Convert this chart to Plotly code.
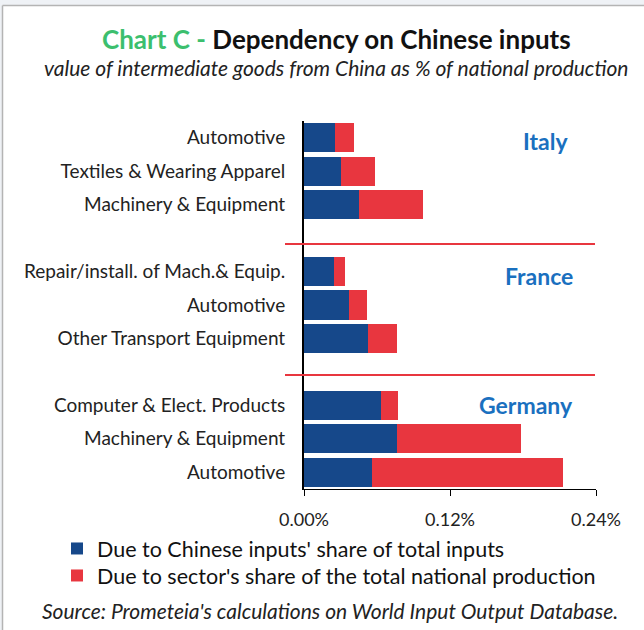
import plotly.graph_objects as go

countries = ["Italy", "France", "Germany"]
sectors = [
    ["Automotive", "Textiles & Wearing Apparel", "Machinery & Equipment"],
    ["Repair/install. of Mach.& Equip.", "Automotive", "Other Transport Equipment"],
    ["Computer & Elect. Products", "Machinery & Equipment", "Automotive"],
]
# % of national production
input_share = [
    [0.0254, 0.0303, 0.0451],
    [0.0246, 0.0369, 0.0524],
    [0.0633, 0.0764, 0.0555],
]
sector_share = [
    [0.0156, 0.0284, 0.0524],
    [0.0094, 0.0147, 0.0242],
    [0.0143, 0.1019, 0.1575],
]
x_ticks = [0.0, 0.12, 0.24]
x_tick_labels = ["0.00%", "0.12%", "0.24%"]
series_names = [
    "Due to Chinese inputs' share of total inputs",
    "Due to sector's share of the total national production",
]

W, H = 644, 630
L, R, T, B = 304, 48, 121, 141
PW, PH = W - L - R, H - T - B


def px(x):
    return (x - L) / PW


def py(y):
    return (H - B - y) / PH


FONT = "Lato, 'Open Sans', sans-serif"
BLUE = "#16488a"
RED = "#e8363f"

# slot positions: 3 rows per country, one empty slot between countries
pos, labels, blue, red = [], [], [], []
for g in range(len(countries)):
    for i in range(len(sectors[g])):
        pos.append(g * 4 + i)
        labels.append(sectors[g][i])
        blue.append(input_share[g][i])
        red.append(sector_share[g][i])

fig = go.Figure()
fig.add_trace(go.Bar(
    y=pos, x=blue, orientation="h", name=series_names[0], showlegend=True,
    marker=dict(color=BLUE, line=dict(width=0)), legend="legend",
))
fig.add_trace(go.Bar(
    y=pos, x=red, orientation="h", name=series_names[1], showlegend=True,
    marker=dict(color=RED, line=dict(width=0)), legend="legend2",
))

leg = dict(xanchor="left", yanchor="top", font=dict(size=21.5, color="#111"),
           bgcolor="rgba(0,0,0,0)", visible=True)

fig.update_layout(
    width=W, height=H,
    margin=dict(l=L, r=R, t=T, b=B),
    barmode="stack",
    bargap=0.13,
    showlegend=True,
    plot_bgcolor="white",
    paper_bgcolor="white",
    font=dict(family=FONT, color="#222", size=19),
    legend=dict(x=px(57), y=py(528), **leg),
    legend2=dict(x=px(57), y=py(555), **leg),
)

fig.update_xaxes(
    range=[0, 0.24], tickvals=x_ticks, ticktext=x_tick_labels,
    showgrid=False, zeroline=False, showline=True, linecolor="black",
    linewidth=1, ticks="outside", ticklen=6, tickcolor="black",
    tickfont=dict(size=18, color="#222"), ticklabelstandoff=8,
)
fig.update_yaxes(
    range=[10.5, -0.5], tickvals=pos, ticktext=labels,
    showgrid=False, zeroline=False, showline=True, linecolor="black",
    linewidth=2, ticks="", tickfont=dict(size=19, color="#222"),
    ticklabelstandoff=13,
)

# separators between countries
for yline in [244, 375]:
    fig.add_shape(type="line", xref="paper", yref="paper",
                  x0=px(285), x1=px(595), y0=py(yline), y1=py(yline),
                  line=dict(color=RED, width=2))

# frame at top and left
fig.add_shape(type="rect", xref="paper", yref="paper",
              x0=px(0), x1=px(W), y0=py(0), y1=py(5),
              fillcolor="#eff2f6", line=dict(width=0), layer="below")
fig.add_shape(type="rect", xref="paper", yref="paper",
              x0=px(0), x1=px(2), y0=py(5), y1=py(H),
              fillcolor="#eff2f6", line=dict(width=0), layer="below")
fig.add_shape(type="line", xref="paper", yref="paper",
              x0=px(2.5), x1=px(W), y0=py(5.5), y1=py(5.5),
              line=dict(color="#b4b4b4", width=1.5))
fig.add_shape(type="line", xref="paper", yref="paper",
              x0=px(2.5), x1=px(2.5), y0=py(5.5), y1=py(H),
              line=dict(color="#b4b4b4", width=1.5))

# country labels
for name, cx, cy in zip(countries, [545, 539, 526], [141, 276, 405]):
    fig.add_annotation(text="<b>" + name + "</b>", xref="paper", yref="paper",
                       x=px(cx), y=py(cy), xanchor="center", yanchor="middle",
                       showarrow=False, font=dict(size=23, color="#1a70bf"))

fig.add_annotation(
    text='<b><span style="color:#3cbf6e">Chart C - </span>Dependency on Chinese inputs</b>',
    xref="paper", yref="paper", x=px(336), y=py(39),
    xanchor="center", yanchor="middle", showarrow=False,
    font=dict(size=26, color="#111"),
)
fig.add_annotation(
    text="<i>value of intermediate goods from China as % of national production</i>",
    xref="paper", yref="paper", x=px(336), y=py(68),
    xanchor="center", yanchor="middle", showarrow=False,
    font=dict(size=21, color="#222"),
)
fig.add_annotation(
    text="<i>Source: Prometeia's calculations on World Input Output Database.</i>",
    xref="paper", yref="paper", x=px(330), y=py(610),
    xanchor="center", yanchor="middle", showarrow=False,
    font=dict(size=21, color="#222"),
)

fig.write_html(
    "out.html",
    config=dict(displayModeBar=False),
    post_script="document.body.style.margin='0px';"
                "document.body.style.overflow='hidden';",
)
